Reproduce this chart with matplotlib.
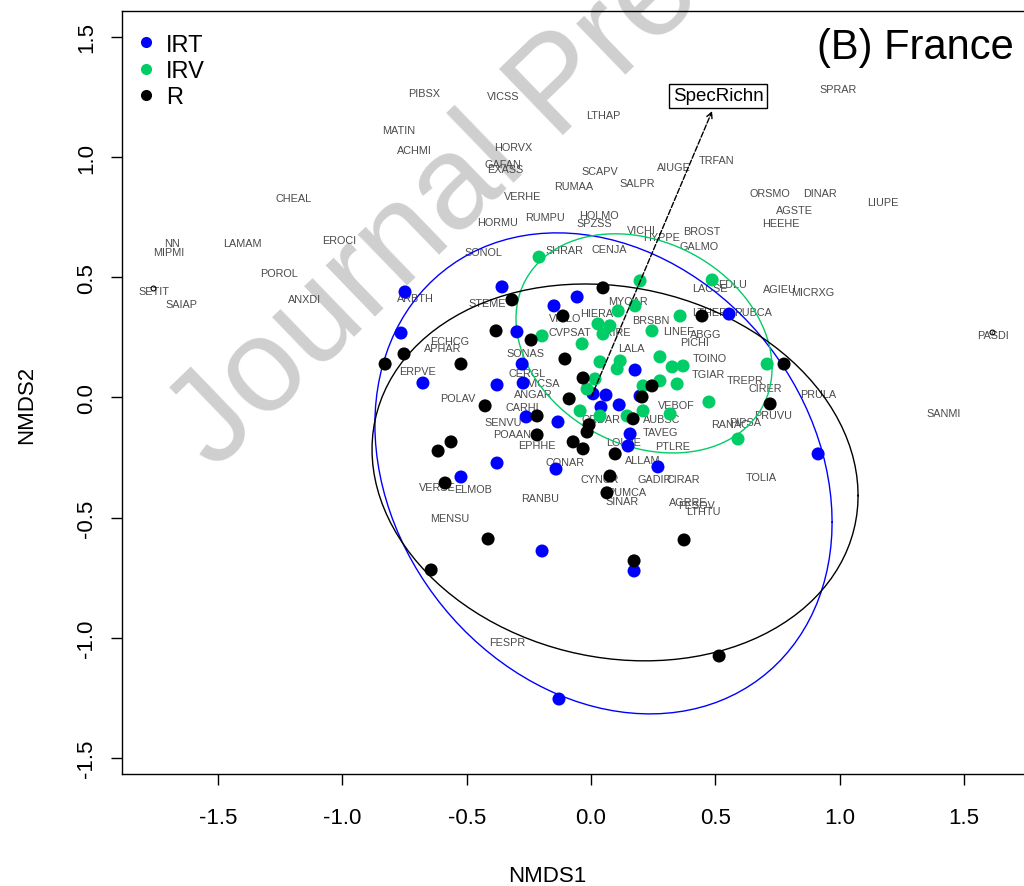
import numpy as np
import matplotlib
matplotlib.use("Agg")
import matplotlib.pyplot as plt
from matplotlib.lines import Line2D

plt.rcParams["font.family"] = ["Liberation Sans", "DejaVu Sans"]
plt.rcParams["axes.unicode_minus"] = False

# ---- site scores by management group (NMDS1, NMDS2) ----
irt_x = [-0.748, -0.764, -0.676, -0.358, -0.149, -0.056, -0.298, -0.277, -0.378, -0.273,
         -0.261, -0.133, 0.177, 0.008, 0.060, 0.040, 0.113, 0.197, 0.157, 0.149,
         -0.378, -0.523, -0.141, -0.197, 0.269, 0.173, -0.129, 0.555, 0.913]
irt_y = [0.439, 0.268, 0.060, 0.460, 0.381, 0.418, 0.273, 0.139, 0.052, 0.060,
         -0.081, -0.102, 0.114, 0.015, 0.010, -0.040, -0.031, 0.006, -0.152, -0.202,
         -0.273, -0.331, -0.298, -0.639, -0.289, -0.722, -1.255, 0.347, -0.235]

irv_x = [-0.209, 0.197, 0.487, 0.177, 0.109, 0.358, 0.028, 0.076, 0.048, 0.245,
         -0.197, -0.036, 0.117, 0.036, 0.277, 0.326, 0.370, 0.105, 0.016, -0.016,
         0.209, 0.277, 0.346, -0.044, 0.036, 0.209, 0.318, 0.145, 0.708, 0.474, 0.591]
irv_y = [0.584, 0.485, 0.489, 0.381, 0.360, 0.339, 0.306, 0.298, 0.264, 0.277,
         0.256, 0.223, 0.152, 0.148, 0.169, 0.127, 0.131, 0.119, 0.077, 0.035,
         0.048, 0.069, 0.056, -0.056, -0.077, -0.056, -0.069, -0.077, 0.139, -0.019, -0.173]

r_x = [0.048, -0.318, -0.382, -0.241, -0.752, -0.828, -0.523, -0.426, -0.217, -0.217,
       -0.563, -0.615, -0.587, -0.113, -0.105, -0.032, -0.088, 0.245, 0.205, 0.169,
       -0.008, -0.016, -0.072, -0.032, 0.097, 0.076, 0.064, 0.374, 0.173, -0.643,
       -0.414, 0.515, 0.446, 0.776, 0.720]
r_y = [0.456, 0.406, 0.277, 0.239, 0.181, 0.139, 0.139, -0.035, -0.077, -0.156,
       -0.185, -0.223, -0.356, 0.339, 0.160, 0.081, -0.006, 0.048, 0.002, -0.089,
       -0.114, -0.144, -0.185, -0.214, -0.235, -0.327, -0.397, -0.593, -0.680, -0.718,
       -0.589, -1.076, 0.339, 0.139, -0.027]

# ---- group ellipses: centre and covariance (sd ellipses) ----
irt_centre = [0.050, -0.316]
irt_cov = [[0.845, -0.187], [-0.187, 1.002]]
irv_centre = [0.213, 0.225]
irv_cov = [[0.265, -0.053], [-0.053, 0.208]]
r_centre = [0.0965, -0.312]
r_cov = [[0.955, -0.094], [-0.094, 0.615]]

# ---- species scores ----
sp_names = ["PIBSX", "VICSS", "LTHAP", "MATIN", "ACHMI", "HORVX", "GAFAN", "EXASS", "SCAPV",
            "AIUGE", "TRFAN", "SALPR", "RUMAA", "VERHE", "CHEAL", "ORSMO", "DINAR", "AGSTE",
            "LIUPE", "SPRAR", "HORMU", "RUMPU", "HOLMO", "SPZSS", "HEEHE", "VICHI", "BROST",
            "HYPPE", "GALMO", "EROCI", "LAMAM", "NN", "MIPMI", "SHRAR", "CENJA", "SONOL",
            "POROL", "SETIT", "ANXDI", "SAIAP", "ARBTH", "AGIEU", "MICRXG", "LACSE", "EDLU",
            "STEME", "PASDI", "SANMI", "PRULA", "PRUVU", "TOINO", "CIRER", "TREPR", "ECHCG",
            "APHAR", "ERPVE", "POLAV", "CARHI", "SENVU", "POAAN", "EPHHE", "CONAR", "VERSE",
            "ELMOB", "RANBU", "MENSU", "FESPR", "TAVEG", "LOLPE", "PTLRE", "ALLAM", "GADIR",
            "CIRAR", "CYNCR", "PUMCA", "SINAR", "AGRRE", "FESOV", "LTHTU", "TOLIA", "RANAC",
            "PIPSA", "LTHER", "RUBCA", "PICHI", "MYOAR", "VICLO", "HIERA", "CVPSAT", "TRIRE",
            "LALA", "LINEF", "SONAS", "CERGL", "ANGAR", "VICSA", "VEBOF", "AUBSC", "ABGG",
            "TGIAR", "BRSBN", "ORDAR"]
sp_x = [-0.671, -0.354, 0.048, -0.772, -0.712, -0.314, -0.354, -0.346, 0.036,
        0.334, 0.503, 0.185, -0.068, -0.277, -1.198, 0.720, 0.921, 0.820,
        1.174, 0.993, -0.374, -0.185, 0.032, 0.012, 0.764, 0.201, 0.446,
        0.285, 0.434, -1.013, -1.403, -1.685, -1.697, -0.109, 0.072, -0.434,
        -1.255, -1.757, -1.150, -1.645, -0.708, 0.760, 0.893, 0.478, 0.571,
        -0.418, 1.616, 1.419, 0.913, 0.732, 0.478, 0.700, 0.619, -0.567,
        -0.595, -0.696, -0.535, -0.277, -0.354, -0.318, -0.217, -0.105, -0.619,
        -0.474, -0.205, -0.567, -0.338, 0.277, 0.129, 0.330, 0.209, 0.257,
        0.370, 0.036, 0.145, 0.125, 0.390, 0.426, 0.450, 0.684, 0.559,
        0.619, 0.478, 0.652, 0.418, 0.149, -0.105, 0.024, -0.085, 0.096,
        0.161, 0.350, -0.265, -0.257, -0.233, -0.190, 0.342, 0.282, 0.460,
        0.470, 0.240, 0.040]
sp_y = [1.267, 1.255, 1.176, 1.113, 1.030, 1.042, 0.971, 0.950, 0.942,
        0.959, 0.988, 0.892, 0.880, 0.839, 0.830, 0.851, 0.851, 0.780,
        0.814, 1.284, 0.730, 0.751, 0.759, 0.726, 0.726, 0.697, 0.693,
        0.668, 0.630, 0.655, 0.643, 0.643, 0.605, 0.614, 0.618, 0.605,
        0.518, 0.443, 0.410, 0.389, 0.414, 0.452, 0.439, 0.456, 0.472,
        0.393, 0.260, -0.065, 0.015, -0.073, 0.164, 0.040, 0.073, 0.235,
        0.206, 0.110, -0.002, -0.040, -0.102, -0.152, -0.198, -0.268, -0.372,
        -0.381, -0.418, -0.501, -1.017, -0.144, -0.185, -0.202, -0.260, -0.339,
        -0.339, -0.339, -0.393, -0.431, -0.435, -0.447, -0.472, -0.331, -0.110,
        -0.102, 0.356, 0.356, 0.231, 0.402, 0.331, 0.352, 0.272, 0.272,
        0.206, 0.275, 0.185, 0.102, 0.015, 0.060, -0.031, -0.090, 0.264,
        0.098, 0.322, -0.090]

# ---- fitted vector ----
vec_name = "SpecRichn"
vec_xy = [0.487, 1.192]
vec_label_xy = [0.511, 1.255]

groups = ["IRT", "IRV", "R"]
colours = ["#0000FF", "#00CD66", "#000000"]

fig = plt.figure(figsize=(10.24, 8.87), dpi=100)
ax = fig.add_axes([122 / 1024, 1 - 775 / 887, (1060 - 122) / 1024, (775 - 12) / 887])
ax.set_facecolor("none")

x_per_px = 1 / 248.7
y_per_px = 1 / 240.3
ax.set_xlim(-1.886, -1.886 + (1060 - 122) * x_per_px)
ax.set_ylim(-1.567, -1.567 + (775 - 12) * y_per_px)

# watermark behind the plot
fig.text(215 / 1024, 1 - 472 / 887, "Journal Pre-proof", fontsize=96, color="#cfcfcf",
         rotation=44, rotation_mode="anchor", ha="left", va="baseline", zorder=-5)

# species labels
for name, x, y in zip(sp_names, sp_x, sp_y):
    ax.text(x, y, name, fontsize=7.8, color="#4a4a4a", ha="center", va="center", zorder=2)
# unlabeled species markers
for name in ["SETIT", "PASDI"]:
    i = sp_names.index(name)
    ax.plot(sp_x[i] - 0.004, sp_y[i] + 0.012, marker="o", ms=3.5, mfc="none", mec="black",
            mew=0.8, zorder=3)

# ellipses
t = np.linspace(0, 2 * np.pi, 120)
circle = np.vstack([np.cos(t), np.sin(t)])
for centre, cov, col in [(irt_centre, irt_cov, colours[0]),
                         (irv_centre, irv_cov, colours[1]),
                         (r_centre, r_cov, colours[2])]:
    L = np.linalg.cholesky(np.array(cov))
    pts = L @ circle
    ax.plot(centre[0] + pts[0], centre[1] + pts[1], color=col, lw=1.0, zorder=3)

# site points
for xs, ys, col in [(irt_x, irt_y, colours[0]), (irv_x, irv_y, colours[1]), (r_x, r_y, colours[2])]:
    ax.scatter(xs, ys, s=88, color=col, edgecolors="none", zorder=4)

# fitted vector arrow and label
ax.annotate("", xy=vec_xy, xytext=(0, 0),
            arrowprops=dict(arrowstyle="->", color="black", lw=1.0, linestyle=(0, (4, 1.5)),
                            shrinkA=0, shrinkB=0, mutation_scale=10), zorder=5)
ax.text(vec_label_xy[0], vec_label_xy[1], vec_name, fontsize=13.5, ha="center", va="center",
        bbox=dict(boxstyle="square,pad=0.2", fc="white", ec="black", lw=1.0), zorder=6)

# panel title
ax.text(1.303, 1.459, "(B) France", fontsize=30, ha="center", va="center", zorder=6)

# legend
handles = [Line2D([], [], ls="none", marker="o", ms=8, mfc=c, mec="none") for c in colours]
leg = ax.legend(handles, groups, loc="upper left", bbox_to_anchor=(-0.005, 0.992), frameon=False,
                fontsize=17, handletextpad=0.35, labelspacing=0.18, handlelength=1.0,
                borderaxespad=0.3)

# axes styling
ax.set_xticks([-1.5, -1.0, -0.5, 0.0, 0.5, 1.0, 1.5])
ax.set_yticks([-1.5, -1.0, -0.5, 0.0, 0.5, 1.0, 1.5])
ax.tick_params(labelsize=16, length=8, width=1)
ax.tick_params(axis="x", pad=16)
ax.tick_params(axis="y", pad=10)
for lab in ax.get_yticklabels():
    lab.set_rotation(90)
    lab.set_va("center")
for s in ["left", "bottom", "top"]:
    ax.spines[s].set_linewidth(1.0)
ax.set_xlabel("NMDS1", fontsize=16)
ax.set_ylabel("NMDS2", fontsize=16)
ax.xaxis.set_label_coords((547 - 122) / (1060 - 122), -(866 - 775) / (775 - 12))
ax.yaxis.set_label_coords(-(122 - 37) / (1060 - 122), (775 - 405) / (775 - 12))

fig.savefig("out.png", dpi=100)
